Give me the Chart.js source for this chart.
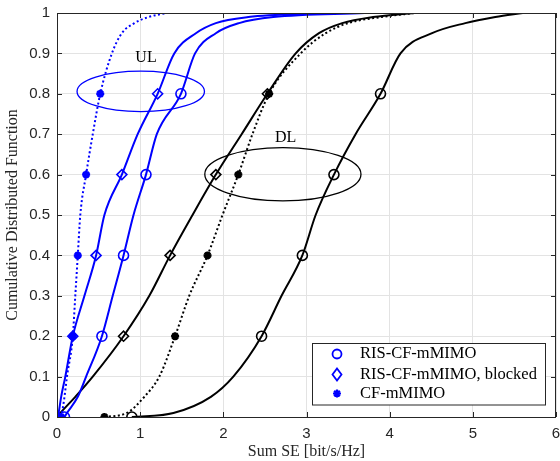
<!DOCTYPE html>
<html>
<head>
<meta charset="utf-8">
<script src="https://cdn.jsdelivr.net/npm/chart.js@4/dist/chart.umd.min.js"></script>
<style>
  html, body { margin: 0; padding: 0; background: #fff; }
  #wrap { width: 560px; height: 461px; }
</style>
</head>
<body>
<div id="wrap"><canvas id="cdfChart" width="560" height="461"></canvas></div>
<script>
// CDF levels shared by every curve
const cdfLevels = [0, 0.01, 0.05, 0.1, 0.2, 0.3, 0.4, 0.5, 0.6, 0.7, 0.8, 0.9, 0.95, 0.975, 0.99, 1];
const markerLevels = [0, 0.2, 0.4, 0.6, 0.8];

// Sum SE [bit/s/Hz] at each CDF level
const ulRis     = [0.09, 0.12, 0.25, 0.35, 0.54, 0.67, 0.80, 0.92, 1.07, 1.20, 1.49, 1.66, 1.91, 2.19, 2.60, 3.70];
const ulBlocked = [0.01, 0.02, 0.05, 0.10, 0.19, 0.33, 0.47, 0.57, 0.78, 0.97, 1.21, 1.41, 1.67, 1.91, 2.30, 3.20];
const ulCf      = [0.05, 0.06, 0.09, 0.12, 0.19, 0.22, 0.25, 0.28, 0.35, 0.43, 0.52, 0.66, 0.78, 0.93, 1.10, 1.32];
const dlRis     = [0.90, 1.40, 1.85, 2.12, 2.46, 2.70, 2.95, 3.11, 3.33, 3.59, 3.89, 4.13, 4.51, 4.91, 5.27, 5.60];
const dlBlocked = [0.00, 0.04, 0.22, 0.43, 0.80, 1.11, 1.36, 1.63, 1.91, 2.22, 2.53, 2.87, 3.15, 3.43, 3.80, 4.30];
const dlCf      = [0.57, 0.84, 1.05, 1.23, 1.42, 1.59, 1.81, 1.99, 2.18, 2.35, 2.55, 2.93, 3.23, 3.50, 3.90, 4.30];

const legendLabels = ['RIS-CF-mMIMO', 'RIS-CF-mMIMO, blocked', 'CF-mMIMO'];

const BLUE = '#0000ff';
const BLACK = '#000000';
const serif = '"Liberation Serif", "DejaVu Serif", serif';
const sans = '"Liberation Sans", Arial, sans-serif';
const PLOT_RIGHT = 556;
const PLOT_TOP = 13;

function toPoints(xs) {
  return xs.map((x, i) => ({ x: x, y: cdfLevels[i] }));
}

function makeSet(label, xs, color, style, dotted) {
  return {
    label: label,
    data: toPoints(xs),
    showLine: true,
    borderColor: color,
    backgroundColor: 'transparent',
    borderWidth: 2,
    borderDash: dotted ? [2, 2.5] : [],
    cubicInterpolationMode: 'monotone',
    pointStyle: style,
    pointRadius: ctx => (ctx.raw && markerLevels.includes(ctx.raw.y)) ? (style === 'star' ? 4 : 5) : 0,
    pointBorderWidth: style === 'star' ? 2.5 : 1.6,
    pointBorderColor: color,
    pointBackgroundColor: style === 'star' ? color : 'transparent'
  };
}

// pin the plot box to the original's edges (right edge sits at the window edge)
const pinArea = {
  id: 'pinArea',
  afterLayout(chart) {
    const a = chart.chartArea, x = chart.scales.x, y = chart.scales.y;
    a.right = PLOT_RIGHT;
    a.width = a.right - a.left;
    x.right = PLOT_RIGHT;
    x.width = x.right - x.left;
    x.configure();
    a.top = PLOT_TOP;
    a.height = a.bottom - a.top;
    y.top = PLOT_TOP;
    y.height = y.bottom - y.top;
    y.configure();
  }
};

// ellipses, labels, box, inward ticks and the legend
const decorations = {
  id: 'decorations',
  afterDatasetsDraw(chart) {
    const { ctx, chartArea: a, scales } = chart;
    const xs = scales.x, ys = scales.y;
    ctx.save();

    // ellipses around the UL and DL groups
    const ellipse = (cx, cy, rx, ry, color) => {
      const px = xs.getPixelForValue(cx), py = ys.getPixelForValue(cy);
      const prx = xs.getPixelForValue(cx + rx) - px;
      const pry = py - ys.getPixelForValue(cy + ry);
      ctx.beginPath();
      ctx.ellipse(px, py, prx, pry, 0, 0, Math.PI * 2);
      ctx.strokeStyle = color;
      ctx.lineWidth = 1.3;
      ctx.setLineDash([]);
      ctx.stroke();
    };
    ellipse(1.007, 0.806, 0.766, 0.050, BLUE);
    ellipse(2.716, 0.601, 0.939, 0.066, BLACK);

    ctx.fillStyle = '#000';
    ctx.font = '16px ' + serif;
    ctx.textAlign = 'center';
    ctx.textBaseline = 'middle';
    ctx.fillText('UL', xs.getPixelForValue(1.07), ys.getPixelForValue(0.889));
    ctx.fillText('DL', xs.getPixelForValue(2.75), ys.getPixelForValue(0.691));

    // axes box
    ctx.strokeStyle = '#262626';
    ctx.lineWidth = 1;
    ctx.strokeRect(a.left + 0.5, a.top + 0.5, a.right - a.left - 1, a.bottom - a.top);

    // inward ticks on all sides
    const tl = 5;
    ctx.beginPath();
    for (let v = 0; v <= 6; v++) {
      const px = Math.round(xs.getPixelForValue(v)) + 0.5;
      ctx.moveTo(px, a.bottom); ctx.lineTo(px, a.bottom - tl);
      ctx.moveTo(px, a.top); ctx.lineTo(px, a.top + tl);
    }
    for (let i = 0; i <= 10; i++) {
      const py = Math.round(ys.getPixelForValue(i / 10)) + 0.5;
      ctx.moveTo(a.left, py); ctx.lineTo(a.left + tl, py);
      ctx.moveTo(a.right, py); ctx.lineTo(a.right - tl, py);
    }
    ctx.stroke();

    // legend box
    const lx = 312.5, ly = 343.5, lw = 233, lh = 61.5;
    ctx.fillStyle = '#fff';
    ctx.fillRect(lx, ly, lw, lh);
    ctx.strokeStyle = '#262626';
    ctx.strokeRect(lx, ly, lw, lh);
    const rowY = [354, 374.5, 393.5];
    const mx = 337;
    ctx.strokeStyle = BLUE;
    ctx.fillStyle = BLUE;
    ctx.lineWidth = 1.8;
    // circle
    ctx.beginPath();
    ctx.arc(mx, rowY[0], 4.5, 0, Math.PI * 2);
    ctx.stroke();
    // diamond
    ctx.beginPath();
    ctx.moveTo(mx, rowY[1] - 6);
    ctx.lineTo(mx + 4.5, rowY[1]);
    ctx.lineTo(mx, rowY[1] + 6);
    ctx.lineTo(mx - 4.5, rowY[1]);
    ctx.closePath();
    ctx.stroke();
    // asterisk
    ctx.lineWidth = 2.2;
    ctx.beginPath();
    for (let k = 0; k < 4; k++) {
      const ang = k * Math.PI / 4;
      ctx.moveTo(mx - 4 * Math.cos(ang), rowY[2] - 4 * Math.sin(ang));
      ctx.lineTo(mx + 4 * Math.cos(ang), rowY[2] + 4 * Math.sin(ang));
    }
    ctx.stroke();

    ctx.fillStyle = '#000';
    ctx.font = '16.5px ' + serif;
    ctx.textAlign = 'left';
    ctx.textBaseline = 'middle';
    legendLabels.forEach((t, i) => ctx.fillText(t, 360, rowY[i]));

    ctx.restore();
  }
};

new Chart(document.getElementById('cdfChart'), {
  type: 'scatter',
  data: {
    datasets: [
      makeSet('UL ' + legendLabels[0], ulRis, BLUE, 'circle', false),
      makeSet('UL ' + legendLabels[1], ulBlocked, BLUE, 'rectRot', false),
      makeSet('UL ' + legendLabels[2], ulCf, BLUE, 'star', true),
      makeSet('DL ' + legendLabels[0], dlRis, BLACK, 'circle', false),
      makeSet('DL ' + legendLabels[1], dlBlocked, BLACK, 'rectRot', false),
      makeSet('DL ' + legendLabels[2], dlCf, BLACK, 'star', true)
    ]
  },
  options: {
    responsive: false,
    animation: false,
    layout: { padding: { left: 0, right: 0, top: 13, bottom: 0 } },
    plugins: {
      legend: { display: false },
      tooltip: { enabled: false }
    },
    scales: {
      x: {
        type: 'linear',
        min: 0,
        max: 6,
        afterFit: s => { s.height = 44; },
        ticks: { stepSize: 1, padding: 8, color: '#262626', font: { family: sans, size: 15 } },
        grid: { color: '#e3e3e3', drawTicks: false },
        border: { display: false },
        title: {
          display: true,
          text: 'Sum SE [bit/s/Hz]',
          color: '#262626',
          font: { family: serif, size: 16 },
          padding: { top: 0, bottom: 0 }
        }
      },
      y: {
        min: 0,
        max: 1,
        afterFit: s => { s.width = 57; },
        ticks: {
          stepSize: 0.1,
          padding: 7,
          color: '#262626',
          font: { family: sans, size: 15 },
          callback: v => String(Number(v.toFixed(1)))
        },
        grid: { color: '#e3e3e3', drawTicks: false },
        border: { display: false },
        title: {
          display: true,
          text: 'Cumulative Distributed Function',
          color: '#262626',
          font: { family: serif, size: 16 },
          padding: { top: 3, bottom: 0 }
        }
      }
    }
  },
  plugins: [pinArea, decorations]
});
</script>
</body>
</html>
